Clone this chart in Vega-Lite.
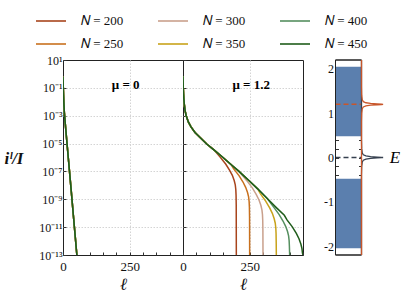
{
  "$schema": "https://vega.github.io/schema/vega-lite/v6.json",
  "background": "white",
  "padding": {"left": 3, "top": 5, "right": 3, "bottom": 5},
  "bounds": "flush",
  "spacing": 0,
  "datasets": {
    "mu0": [
      {"N":"𝑁 = 200","l":0,"lg":-0.2},{"N":"𝑁 = 200","l":1,"lg":-0.9},{"N":"𝑁 = 200","l":2,"lg":-1.5},{"N":"𝑁 = 200","l":3,"lg":-2.0},{"N":"𝑁 = 200","l":5,"lg":-2.75},{"N":"𝑁 = 200","l":10,"lg":-3.9},{"N":"𝑁 = 200","l":20,"lg":-6.05},{"N":"𝑁 = 200","l":30,"lg":-8.2},{"N":"𝑁 = 200","l":40,"lg":-10.4},{"N":"𝑁 = 200","l":52,"lg":-13},
      {"N":"𝑁 = 250","l":0,"lg":-0.2},{"N":"𝑁 = 250","l":1,"lg":-0.9},{"N":"𝑁 = 250","l":2,"lg":-1.5},{"N":"𝑁 = 250","l":3,"lg":-2.0},{"N":"𝑁 = 250","l":5,"lg":-2.75},{"N":"𝑁 = 250","l":10,"lg":-3.9},{"N":"𝑁 = 250","l":20,"lg":-6.05},{"N":"𝑁 = 250","l":30,"lg":-8.2},{"N":"𝑁 = 250","l":40,"lg":-10.4},{"N":"𝑁 = 250","l":52,"lg":-13},
      {"N":"𝑁 = 300","l":0,"lg":-0.2},{"N":"𝑁 = 300","l":1,"lg":-0.9},{"N":"𝑁 = 300","l":2,"lg":-1.5},{"N":"𝑁 = 300","l":3,"lg":-2.0},{"N":"𝑁 = 300","l":5,"lg":-2.75},{"N":"𝑁 = 300","l":10,"lg":-3.9},{"N":"𝑁 = 300","l":20,"lg":-6.05},{"N":"𝑁 = 300","l":30,"lg":-8.2},{"N":"𝑁 = 300","l":40,"lg":-10.4},{"N":"𝑁 = 300","l":52,"lg":-13},
      {"N":"𝑁 = 350","l":0,"lg":-0.2},{"N":"𝑁 = 350","l":1,"lg":-0.9},{"N":"𝑁 = 350","l":2,"lg":-1.5},{"N":"𝑁 = 350","l":3,"lg":-2.0},{"N":"𝑁 = 350","l":5,"lg":-2.75},{"N":"𝑁 = 350","l":10,"lg":-3.9},{"N":"𝑁 = 350","l":20,"lg":-6.05},{"N":"𝑁 = 350","l":30,"lg":-8.2},{"N":"𝑁 = 350","l":40,"lg":-10.4},{"N":"𝑁 = 350","l":52,"lg":-13},
      {"N":"𝑁 = 400","l":0,"lg":-0.2},{"N":"𝑁 = 400","l":1,"lg":-0.9},{"N":"𝑁 = 400","l":2,"lg":-1.5},{"N":"𝑁 = 400","l":3,"lg":-2.0},{"N":"𝑁 = 400","l":5,"lg":-2.75},{"N":"𝑁 = 400","l":10,"lg":-3.9},{"N":"𝑁 = 400","l":20,"lg":-6.05},{"N":"𝑁 = 400","l":30,"lg":-8.2},{"N":"𝑁 = 400","l":40,"lg":-10.4},{"N":"𝑁 = 400","l":52,"lg":-13},
      {"N":"𝑁 = 450","l":0,"lg":-0.2},{"N":"𝑁 = 450","l":1,"lg":-0.9},{"N":"𝑁 = 450","l":2,"lg":-1.5},{"N":"𝑁 = 450","l":3,"lg":-2.0},{"N":"𝑁 = 450","l":5,"lg":-2.75},{"N":"𝑁 = 450","l":10,"lg":-3.9},{"N":"𝑁 = 450","l":20,"lg":-6.05},{"N":"𝑁 = 450","l":30,"lg":-8.2},{"N":"𝑁 = 450","l":40,"lg":-10.4},{"N":"𝑁 = 450","l":52,"lg":-13}
    ],
    "mu12": [
      {"N":"𝑁 = 200","l":0,"lg":-0.17},{"N":"𝑁 = 200","l":1,"lg":-0.95},{"N":"𝑁 = 200","l":2,"lg":-1.4},{"N":"𝑁 = 200","l":3,"lg":-1.75},{"N":"𝑁 = 200","l":5,"lg":-2.2},{"N":"𝑁 = 200","l":8,"lg":-2.65},{"N":"𝑁 = 200","l":12,"lg":-3.0},{"N":"𝑁 = 200","l":20,"lg":-3.45},{"N":"𝑁 = 200","l":30,"lg":-3.8},{"N":"𝑁 = 200","l":45,"lg":-4.2},{"N":"𝑁 = 200","l":66,"lg":-4.6},{"N":"𝑁 = 200","l":90,"lg":-5.05},{"N":"𝑁 = 200","l":116,"lg":-5.45},
      {"N":"𝑁 = 200","l":140,"lg":-5.99},{"N":"𝑁 = 200","l":160,"lg":-6.47},{"N":"𝑁 = 200","l":175,"lg":-6.92},{"N":"𝑁 = 200","l":185,"lg":-7.28},{"N":"𝑁 = 200","l":192,"lg":-7.65},{"N":"𝑁 = 200","l":196,"lg":-7.97},{"N":"𝑁 = 200","l":198,"lg":-8.3},{"N":"𝑁 = 200","l":199,"lg":-8.72},{"N":"𝑁 = 200","l":199.6,"lg":-9.43},{"N":"𝑁 = 200","l":200,"lg":-13},
      {"N":"𝑁 = 250","l":0,"lg":-0.17},{"N":"𝑁 = 250","l":1,"lg":-0.95},{"N":"𝑁 = 250","l":2,"lg":-1.4},{"N":"𝑁 = 250","l":3,"lg":-1.75},{"N":"𝑁 = 250","l":5,"lg":-2.2},{"N":"𝑁 = 250","l":8,"lg":-2.65},{"N":"𝑁 = 250","l":12,"lg":-3.0},{"N":"𝑁 = 250","l":20,"lg":-3.45},{"N":"𝑁 = 250","l":30,"lg":-3.8},{"N":"𝑁 = 250","l":45,"lg":-4.2},{"N":"𝑁 = 250","l":66,"lg":-4.6},{"N":"𝑁 = 250","l":90,"lg":-5.05},{"N":"𝑁 = 250","l":116,"lg":-5.45},
      {"N":"𝑁 = 250","l":150,"lg":-6.0},{"N":"𝑁 = 250","l":180,"lg":-6.5},{"N":"𝑁 = 250","l":190,"lg":-6.82},{"N":"𝑁 = 250","l":210,"lg":-7.3},{"N":"𝑁 = 250","l":225,"lg":-7.76},{"N":"𝑁 = 250","l":235,"lg":-8.14},{"N":"𝑁 = 250","l":242,"lg":-8.51},{"N":"𝑁 = 250","l":246,"lg":-8.83},{"N":"𝑁 = 250","l":248,"lg":-9.17},{"N":"𝑁 = 250","l":249,"lg":-9.58},{"N":"𝑁 = 250","l":249.6,"lg":-10.29},{"N":"𝑁 = 250","l":250,"lg":-13},
      {"N":"𝑁 = 300","l":0,"lg":-0.17},{"N":"𝑁 = 300","l":1,"lg":-0.95},{"N":"𝑁 = 300","l":2,"lg":-1.4},{"N":"𝑁 = 300","l":3,"lg":-1.75},{"N":"𝑁 = 300","l":5,"lg":-2.2},{"N":"𝑁 = 300","l":8,"lg":-2.65},{"N":"𝑁 = 300","l":12,"lg":-3.0},{"N":"𝑁 = 300","l":20,"lg":-3.45},{"N":"𝑁 = 300","l":30,"lg":-3.8},{"N":"𝑁 = 300","l":45,"lg":-4.2},{"N":"𝑁 = 300","l":66,"lg":-4.6},{"N":"𝑁 = 300","l":90,"lg":-5.05},{"N":"𝑁 = 300","l":116,"lg":-5.45},
      {"N":"𝑁 = 300","l":150,"lg":-6.0},{"N":"𝑁 = 300","l":180,"lg":-6.5},{"N":"𝑁 = 300","l":210,"lg":-7.0},{"N":"𝑁 = 300","l":240,"lg":-7.68},{"N":"𝑁 = 300","l":260,"lg":-8.18},{"N":"𝑁 = 300","l":275,"lg":-8.66},{"N":"𝑁 = 300","l":285,"lg":-9.05},{"N":"𝑁 = 300","l":292,"lg":-9.43},{"N":"𝑁 = 300","l":296,"lg":-9.76},{"N":"𝑁 = 300","l":298,"lg":-10.1},{"N":"𝑁 = 300","l":299,"lg":-10.52},{"N":"𝑁 = 300","l":299.6,"lg":-11.23},{"N":"𝑁 = 300","l":300,"lg":-13},
      {"N":"𝑁 = 350","l":0,"lg":-0.17},{"N":"𝑁 = 350","l":1,"lg":-0.95},{"N":"𝑁 = 350","l":2,"lg":-1.4},{"N":"𝑁 = 350","l":3,"lg":-1.75},{"N":"𝑁 = 350","l":5,"lg":-2.2},{"N":"𝑁 = 350","l":8,"lg":-2.65},{"N":"𝑁 = 350","l":12,"lg":-3.0},{"N":"𝑁 = 350","l":20,"lg":-3.45},{"N":"𝑁 = 350","l":30,"lg":-3.8},{"N":"𝑁 = 350","l":45,"lg":-4.2},{"N":"𝑁 = 350","l":66,"lg":-4.6},{"N":"𝑁 = 350","l":90,"lg":-5.05},{"N":"𝑁 = 350","l":116,"lg":-5.45},
      {"N":"𝑁 = 350","l":150,"lg":-6.0},{"N":"𝑁 = 350","l":180,"lg":-6.5},{"N":"𝑁 = 350","l":210,"lg":-7.0},{"N":"𝑁 = 350","l":250,"lg":-7.7},{"N":"𝑁 = 350","l":280,"lg":-8.25},{"N":"𝑁 = 350","l":290,"lg":-8.59},{"N":"𝑁 = 350","l":310,"lg":-9.13},{"N":"𝑁 = 350","l":325,"lg":-9.62},{"N":"𝑁 = 350","l":335,"lg":-10.01},{"N":"𝑁 = 350","l":342,"lg":-10.4},{"N":"𝑁 = 350","l":346,"lg":-10.72},{"N":"𝑁 = 350","l":348,"lg":-11.06},{"N":"𝑁 = 350","l":349,"lg":-11.48},{"N":"𝑁 = 350","l":349.6,"lg":-12.19},{"N":"𝑁 = 350","l":350,"lg":-13},
      {"N":"𝑁 = 400","l":0,"lg":-0.17},{"N":"𝑁 = 400","l":1,"lg":-0.95},{"N":"𝑁 = 400","l":2,"lg":-1.4},{"N":"𝑁 = 400","l":3,"lg":-1.75},{"N":"𝑁 = 400","l":5,"lg":-2.2},{"N":"𝑁 = 400","l":8,"lg":-2.65},{"N":"𝑁 = 400","l":12,"lg":-3.0},{"N":"𝑁 = 400","l":20,"lg":-3.45},{"N":"𝑁 = 400","l":30,"lg":-3.8},{"N":"𝑁 = 400","l":45,"lg":-4.2},{"N":"𝑁 = 400","l":66,"lg":-4.6},{"N":"𝑁 = 400","l":90,"lg":-5.05},{"N":"𝑁 = 400","l":116,"lg":-5.45},
      {"N":"𝑁 = 400","l":150,"lg":-6.0},{"N":"𝑁 = 400","l":180,"lg":-6.5},{"N":"𝑁 = 400","l":210,"lg":-7.0},{"N":"𝑁 = 400","l":250,"lg":-7.7},{"N":"𝑁 = 400","l":280,"lg":-8.25},{"N":"𝑁 = 400","l":316,"lg":-8.95},{"N":"𝑁 = 400","l":340,"lg":-9.56},{"N":"𝑁 = 400","l":360,"lg":-10.08},{"N":"𝑁 = 400","l":375,"lg":-10.56},{"N":"𝑁 = 400","l":385,"lg":-10.94},{"N":"𝑁 = 400","l":392,"lg":-11.31},{"N":"𝑁 = 400","l":396,"lg":-11.63},{"N":"𝑁 = 400","l":398,"lg":-11.97},{"N":"𝑁 = 400","l":399,"lg":-12.39},{"N":"𝑁 = 400","l":400,"lg":-13},
      {"N":"𝑁 = 450","l":0,"lg":-0.17},{"N":"𝑁 = 450","l":1,"lg":-0.95},{"N":"𝑁 = 450","l":2,"lg":-1.4},{"N":"𝑁 = 450","l":3,"lg":-1.75},{"N":"𝑁 = 450","l":5,"lg":-2.2},{"N":"𝑁 = 450","l":8,"lg":-2.65},{"N":"𝑁 = 450","l":12,"lg":-3.0},{"N":"𝑁 = 450","l":20,"lg":-3.45},{"N":"𝑁 = 450","l":30,"lg":-3.8},{"N":"𝑁 = 450","l":45,"lg":-4.2},{"N":"𝑁 = 450","l":66,"lg":-4.6},{"N":"𝑁 = 450","l":90,"lg":-5.05},{"N":"𝑁 = 450","l":116,"lg":-5.45},
      {"N":"𝑁 = 450","l":150,"lg":-6.0},{"N":"𝑁 = 450","l":180,"lg":-6.5},{"N":"𝑁 = 450","l":210,"lg":-7.0},{"N":"𝑁 = 450","l":250,"lg":-7.7},{"N":"𝑁 = 450","l":280,"lg":-8.25},{"N":"𝑁 = 450","l":316,"lg":-8.95},{"N":"𝑁 = 450","l":350,"lg":-9.6},{"N":"𝑁 = 450","l":380,"lg":-10.15},{"N":"𝑁 = 450","l":390,"lg":-10.48},{"N":"𝑁 = 450","l":410,"lg":-10.98},{"N":"𝑁 = 450","l":425,"lg":-11.45},{"N":"𝑁 = 450","l":435,"lg":-11.83},{"N":"𝑁 = 450","l":442,"lg":-12.21},{"N":"𝑁 = 450","l":446,"lg":-12.53},{"N":"𝑁 = 450","l":448,"lg":-12.86},{"N":"𝑁 = 450","l":450,"lg":-13}
    ],
    "lab0": [{"l":235,"lg":-0.79,"text":"μ = 0"}],
    "lab12": [{"l":256,"lg":-0.83,"text":"μ = 1.2"}],
    "bands": [{"lo":0.48,"hi":2.05},{"lo":-2.05,"hi":-0.48}],
    "levels": [{"mu":"0","E":0},{"mu":"1.2","E":1.2}],
    "dos": [
      {"mu":"0","E":-2.2,"w":0},{"mu":"0","E":-0.4,"w":0},{"mu":"0","E":-0.2,"w":0.008},{"mu":"0","E":-0.1,"w":0.03},{"mu":"0","E":-0.06,"w":0.07},{"mu":"0","E":-0.035,"w":0.17},{"mu":"0","E":-0.02,"w":0.35},{"mu":"0","E":-0.01,"w":0.6},{"mu":"0","E":-0.005,"w":0.77},{"mu":"0","E":0,"w":0.83},{"mu":"0","E":0.005,"w":0.77},{"mu":"0","E":0.01,"w":0.6},{"mu":"0","E":0.02,"w":0.35},{"mu":"0","E":0.035,"w":0.17},{"mu":"0","E":0.06,"w":0.07},{"mu":"0","E":0.1,"w":0.03},{"mu":"0","E":0.2,"w":0.008},{"mu":"0","E":0.4,"w":0},{"mu":"0","E":2.2,"w":0},
      {"mu":"1.2","E":-2.2,"w":0},{"mu":"1.2","E":0.8,"w":0},{"mu":"1.2","E":1.0,"w":0.008},{"mu":"1.2","E":1.1,"w":0.03},{"mu":"1.2","E":1.14,"w":0.07},{"mu":"1.2","E":1.165,"w":0.17},{"mu":"1.2","E":1.18,"w":0.35},{"mu":"1.2","E":1.19,"w":0.6},{"mu":"1.2","E":1.195,"w":0.77},{"mu":"1.2","E":1.2,"w":0.83},{"mu":"1.2","E":1.205,"w":0.77},{"mu":"1.2","E":1.21,"w":0.6},{"mu":"1.2","E":1.22,"w":0.35},{"mu":"1.2","E":1.235,"w":0.17},{"mu":"1.2","E":1.26,"w":0.07},{"mu":"1.2","E":1.3,"w":0.03},{"mu":"1.2","E":1.4,"w":0.008},{"mu":"1.2","E":1.6,"w":0},{"mu":"1.2","E":2.2,"w":0}
    ],
    "annot": [{"text":"E","w":1.29,"E":0}]
  },
  "hconcat": [
    {
      "width": 120,
      "height": 195,
      "layer": [
        {
          "data": {"name": "mu0"},
          "mark": {"type": "line", "strokeWidth": 1.5, "clip": true},
          "encoding": {
            "x": {"field": "l", "type": "quantitative", "scale": {"domain": [0, 450], "nice": false, "zero": false},
              "axis": {"values": [0,50,100,150,200,250,300,350,400,450], "tickCount": 50, "labelExpr": "datum.value == 0 || datum.value == 250 ? datum.label : ''", "labelOverlap": false, "labelFlush": false, "grid": true, "gridOpacity": {"condition": {"test": "datum.value == 250", "value": 1}, "value": 0}, "tickSize": -3, "labelPadding": 8, "labelFontSize": 13, "title": "ℓ", "titleFontStyle": "italic", "titleFontWeight": "normal", "titleFontSize": 17, "titlePadding": 3}},
            "y": {"field": "lg", "type": "quantitative", "scale": {"domain": [-13, 1], "nice": false, "zero": false},
              "axis": {"values": [1,-1,-3,-5,-7,-9,-11,-13], "tickCount": 50, "labelExpr": "['10¹','10⁻¹','10⁻³','10⁻⁵','10⁻⁷','10⁻⁹','10⁻¹¹','10⁻¹³'][round((1 - datum.value)/2)]", "labelOverlap": false, "labelFlush": false, "grid": true, "gridOpacity": {"condition": {"test": "datum.value > -12.5 && datum.value < 0.5", "value": 1}, "value": 0}, "tickSize": -3, "labelPadding": 4, "labelFontSize": 12, "title": "iˡ/I", "titleAngle": 0, "titleFontSize": 17, "titleFontWeight": "bold", "titleFontStyle": "italic", "titleAlign": "right", "titleBaseline": "middle", "titleX": -40, "titleY": 98}},
            "color": {"field": "N", "type": "nominal",
              "scale": {"domain": ["𝑁 = 200","𝑁 = 250","𝑁 = 300","𝑁 = 350","𝑁 = 400","𝑁 = 450"], "range": ["#a8441c","#c8701e","#c9a08c","#c8a21a","#558f5f","#1f5c1a"]},
              "legend": {"title": null, "orient": "none", "legendX": -28, "legendY": -55, "columns": 3}}
          }
        },
        {
          "data": {"name": "lab0"},
          "mark": {"type": "text", "fontSize": 13, "fontWeight": "bold", "font": "Liberation Serif"},
          "encoding": {"x": {"field": "l", "type": "quantitative"}, "y": {"field": "lg", "type": "quantitative"}, "text": {"field": "text"}}
        }
      ]
    },
    {
      "width": 120,
      "height": 195,
      "layer": [
        {
          "data": {"name": "mu12"},
          "mark": {"type": "line", "strokeWidth": 1.5, "clip": true},
          "encoding": {
            "x": {"field": "l", "type": "quantitative", "scale": {"domain": [0, 450], "nice": false, "zero": false},
              "axis": {"values": [0,50,100,150,200,250,300,350,400,450], "tickCount": 50, "labelExpr": "datum.value == 0 || datum.value == 250 ? datum.label : ''", "labelOverlap": false, "labelFlush": false, "grid": true, "gridOpacity": {"condition": {"test": "datum.value == 250", "value": 1}, "value": 0}, "tickSize": -3, "labelPadding": 8, "labelFontSize": 13, "title": "ℓ", "titleFontStyle": "italic", "titleFontWeight": "normal", "titleFontSize": 17, "titlePadding": 3}},
            "y": {"field": "lg", "type": "quantitative", "scale": {"domain": [-13, 1], "nice": false, "zero": false},
              "axis": {"values": [1,-1,-3,-5,-7,-9,-11,-13], "tickCount": 50, "labels": false, "grid": true, "gridOpacity": {"condition": {"test": "datum.value > -12.5 && datum.value < 0.5", "value": 1}, "value": 0}, "tickSize": -3, "title": null}},
            "color": {"field": "N", "type": "nominal",
              "scale": {"domain": ["𝑁 = 200","𝑁 = 250","𝑁 = 300","𝑁 = 350","𝑁 = 400","𝑁 = 450"], "range": ["#a8441c","#c8701e","#c9a08c","#c8a21a","#558f5f","#1f5c1a"]},
              "legend": {"title": null, "orient": "none", "legendX": -28, "legendY": -55, "columns": 3}}
          }
        },
        {
          "data": {"name": "lab12"},
          "mark": {"type": "text", "fontSize": 13, "fontWeight": "bold", "font": "Liberation Serif"},
          "encoding": {"x": {"field": "l", "type": "quantitative"}, "y": {"field": "lg", "type": "quantitative"}, "text": {"field": "text"}}
        }
      ]
    },
    {
      "width": 58.5,
      "height": 195,
      "view": {"stroke": null},
      "resolve": {"axis": {"y": "independent"}},
      "layer": [
        {
          "data": {"name": "bands"},
          "mark": {"type": "rect", "color": "#5b7fae"},
          "encoding": {
            "x": {"datum": -1, "type": "quantitative", "scale": {"domain": [-2.25, 0], "nice": false, "zero": false}, "axis": null},
            "x2": {"datum": 0},
            "y": {"field": "lo", "type": "quantitative", "scale": {"domain": [-2.2, 2.2], "nice": false, "zero": false},
              "axis": {"offset": -32.5, "values": [-2,-1.8,-1.6,-1.4,-1.2,-1,-0.8,-0.6,-0.4,-0.2,0,0.2,0.4,0.6,0.8,1,1.2,1.4,1.6,1.8,2], "tickCount": 50, "labelExpr": "abs(datum.value - round(datum.value)) < 0.01 ? toString(round(datum.value)) : ''", "labelOverlap": false, "labelFlush": false, "tickSize": -3, "labelPadding": 5, "labelFontSize": 12, "grid": false, "title": null}},
            "y2": {"field": "hi"}
          }
        },
        {
          "data": {"name": "levels"},
          "mark": {"type": "rule", "strokeDash": [5, 3], "strokeWidth": 1.5},
          "encoding": {
            "x": {"datum": -1, "type": "quantitative"},
            "x2": {"datum": 0},
            "y": {"field": "E", "type": "quantitative",
              "axis": {"orient": "right", "values": [-2,-1.8,-1.6,-1.4,-1.2,-1,-0.8,-0.6,-0.4,-0.2,0,0.2,0.4,0.6,0.8,1,1.2,1.4,1.6,1.8,2], "tickCount": 50, "labels": false, "tickSize": -3, "grid": false, "title": null}},
            "stroke": {"field": "mu", "type": "nominal", "scale": {"domain": ["0", "1.2"], "range": ["#36404f", "#c8562a"]}, "legend": null}
          }
        },
        {
          "data": {"name": "bands"},
          "mark": {"type": "rect", "fill": null, "filled": false, "stroke": "#222", "strokeWidth": 1},
          "encoding": {
            "x": {"datum": -1, "type": "quantitative"},
            "x2": {"datum": 0},
            "y": {"datum": -2.2, "type": "quantitative", "axis": null},
            "y2": {"datum": 2.2}
          }
        },
        {
          "data": {"name": "dos"},
          "mark": {"type": "line", "strokeWidth": 1.3},
          "encoding": {
            "x": {"field": "w", "type": "quantitative"},
            "y": {"field": "E", "type": "quantitative", "axis": null},
            "order": {"field": "E", "type": "quantitative"},
            "stroke": {"field": "mu", "type": "nominal", "legend": null}
          }
        },
        {
          "data": {"name": "annot"},
          "mark": {"type": "text", "fontSize": 17, "fontStyle": "italic", "font": "Liberation Serif"},
          "encoding": {
            "x": {"field": "w", "type": "quantitative"},
            "y": {"field": "E", "type": "quantitative", "axis": null},
            "text": {"field": "text"}
          }
        }
      ]
    }
  ],
  "config": {
    "font": "Liberation Serif",
    "view": {"stroke": "#222", "strokeWidth": 1},
    "axis": {"domain": false, "labelFont": "Liberation Serif", "titleFont": "Liberation Serif", "labelColor": "#111", "titleColor": "#111", "tickColor": "#333", "gridColor": "#d4d4d4", "gridDash": [1.5, 1.5], "labelFlush": false, "labelOverlap": false},
    "legend": {"labelFont": "Liberation Serif", "labelFontSize": 13, "labelColor": "#111", "symbolType": "stroke", "symbolSize": 900, "symbolStrokeWidth": 1.6, "labelOffset": 14, "columnPadding": 30, "rowPadding": -10, "padding": 0}
  }
}
